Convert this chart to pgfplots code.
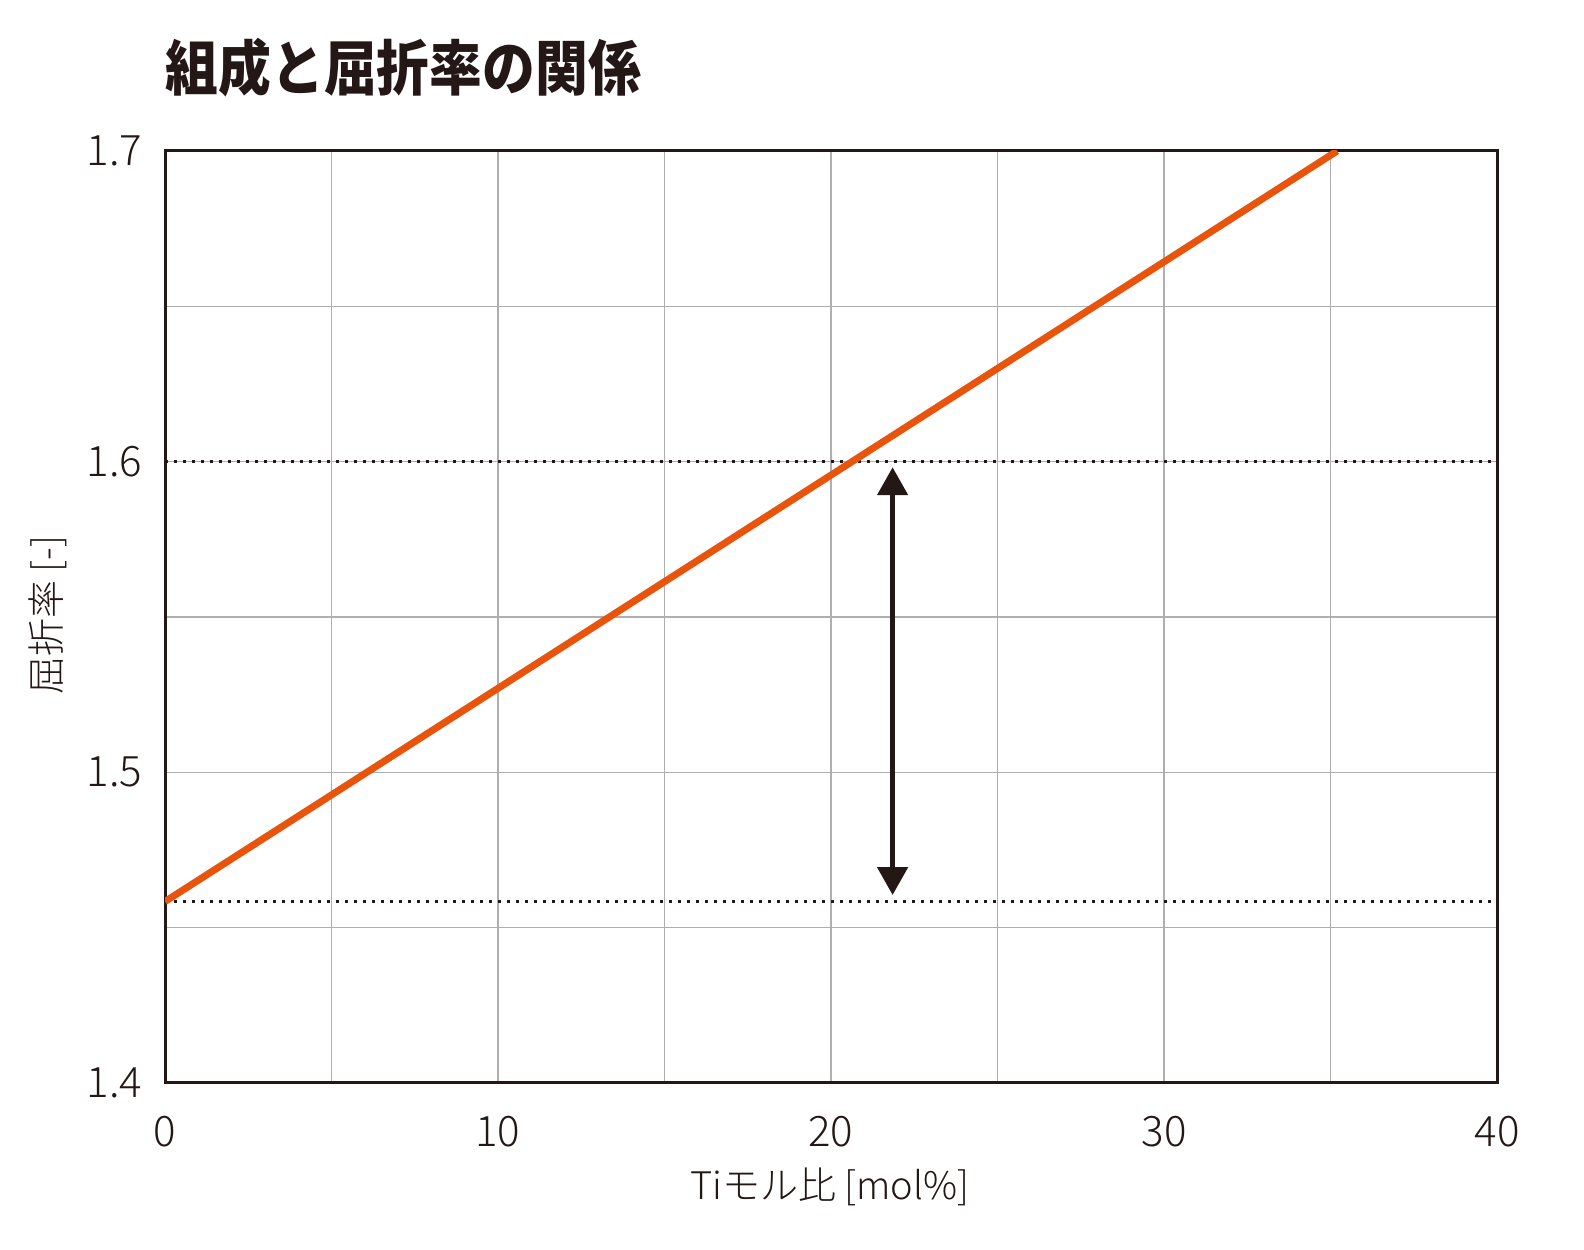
\documentclass[border=0pt]{standalone}
\usepackage{fontspec}
\setmainfont{Noto Sans CJK JP}[UprightFont={* Light}, BoldFont={* Black}]
\usepackage{pgfplots}
\pgfplotsset{compat=1.18}
\usetikzlibrary{arrows.meta}
\definecolor{ink}{RGB}{35,24,21}
\definecolor{lineorange}{RGB}{233,84,13}
\definecolor{gridgray}{RGB}{175,175,175}
\begin{document}
\begin{tikzpicture}
\path[use as bounding box] (0,0) rectangle (396pt,312.5pt);
\begin{axis}[
  at={(41.25pt,41.75pt)}, anchor=south west,
  scale only axis, width=333pt, height=233pt,
  xmin=0, xmax=40, ymin=1.4, ymax=1.7,
  xtick={0,10,20,30,40}, minor xtick={5,15,25,35},
  ytick={1.4,1.5,1.6,1.7}, minor ytick={1.45,1.55,1.65},
  grid=both,
  major grid style={gridgray, line width=0.35pt},
  minor grid style={gridgray, line width=0.35pt},
  major tick length=0pt, minor tick length=0pt,
  axis line style={ink, line width=0.75pt},
  /pgf/number format/assume math mode=true,
  ticklabel style={font=\fontsize{10.5}{12}\selectfont, text=ink, inner sep=0pt},
  xticklabel style={anchor=north},
  xticklabel shift=8pt,
  yticklabel style={anchor=east},
  yticklabel shift=5.5pt,
]
\addplot[ink, line width=0.75pt, dash pattern=on 0.75pt off 1.5pt] coordinates {(0,1.6) (40,1.6)};
\addplot[ink, line width=0.75pt, dash pattern=on 0.75pt off 1.5pt] coordinates {(0,1.4584) (40,1.4584)};
\addplot[lineorange, line width=1.75pt] coordinates {(0,1.4584) (35.2,1.7)};
\addplot[ink, line width=1.25pt, {Triangle[width=7.5pt,length=7pt]}-{Triangle[width=7.5pt,length=7pt]}] coordinates {(21.85,1.4605) (21.85,1.5982)};
\end{axis}
\node[anchor=west, font=\fontsize{15}{18}\selectfont\bfseries, text=ink, inner sep=0pt, xscale=0.88] at (41.25pt,295.5pt) {組成と屈折率の関係};
\node[rotate=90, font=\fontsize{9.5}{11}\selectfont, text=ink, inner sep=0pt] at (12pt,158.75pt) {屈折率 [-]};
\node[font=\fontsize{9.5}{11}\selectfont, text=ink, inner sep=0pt] at (207.5pt,15.75pt) {Tiモル比 [mol\%]};
\end{tikzpicture}
\end{document}
